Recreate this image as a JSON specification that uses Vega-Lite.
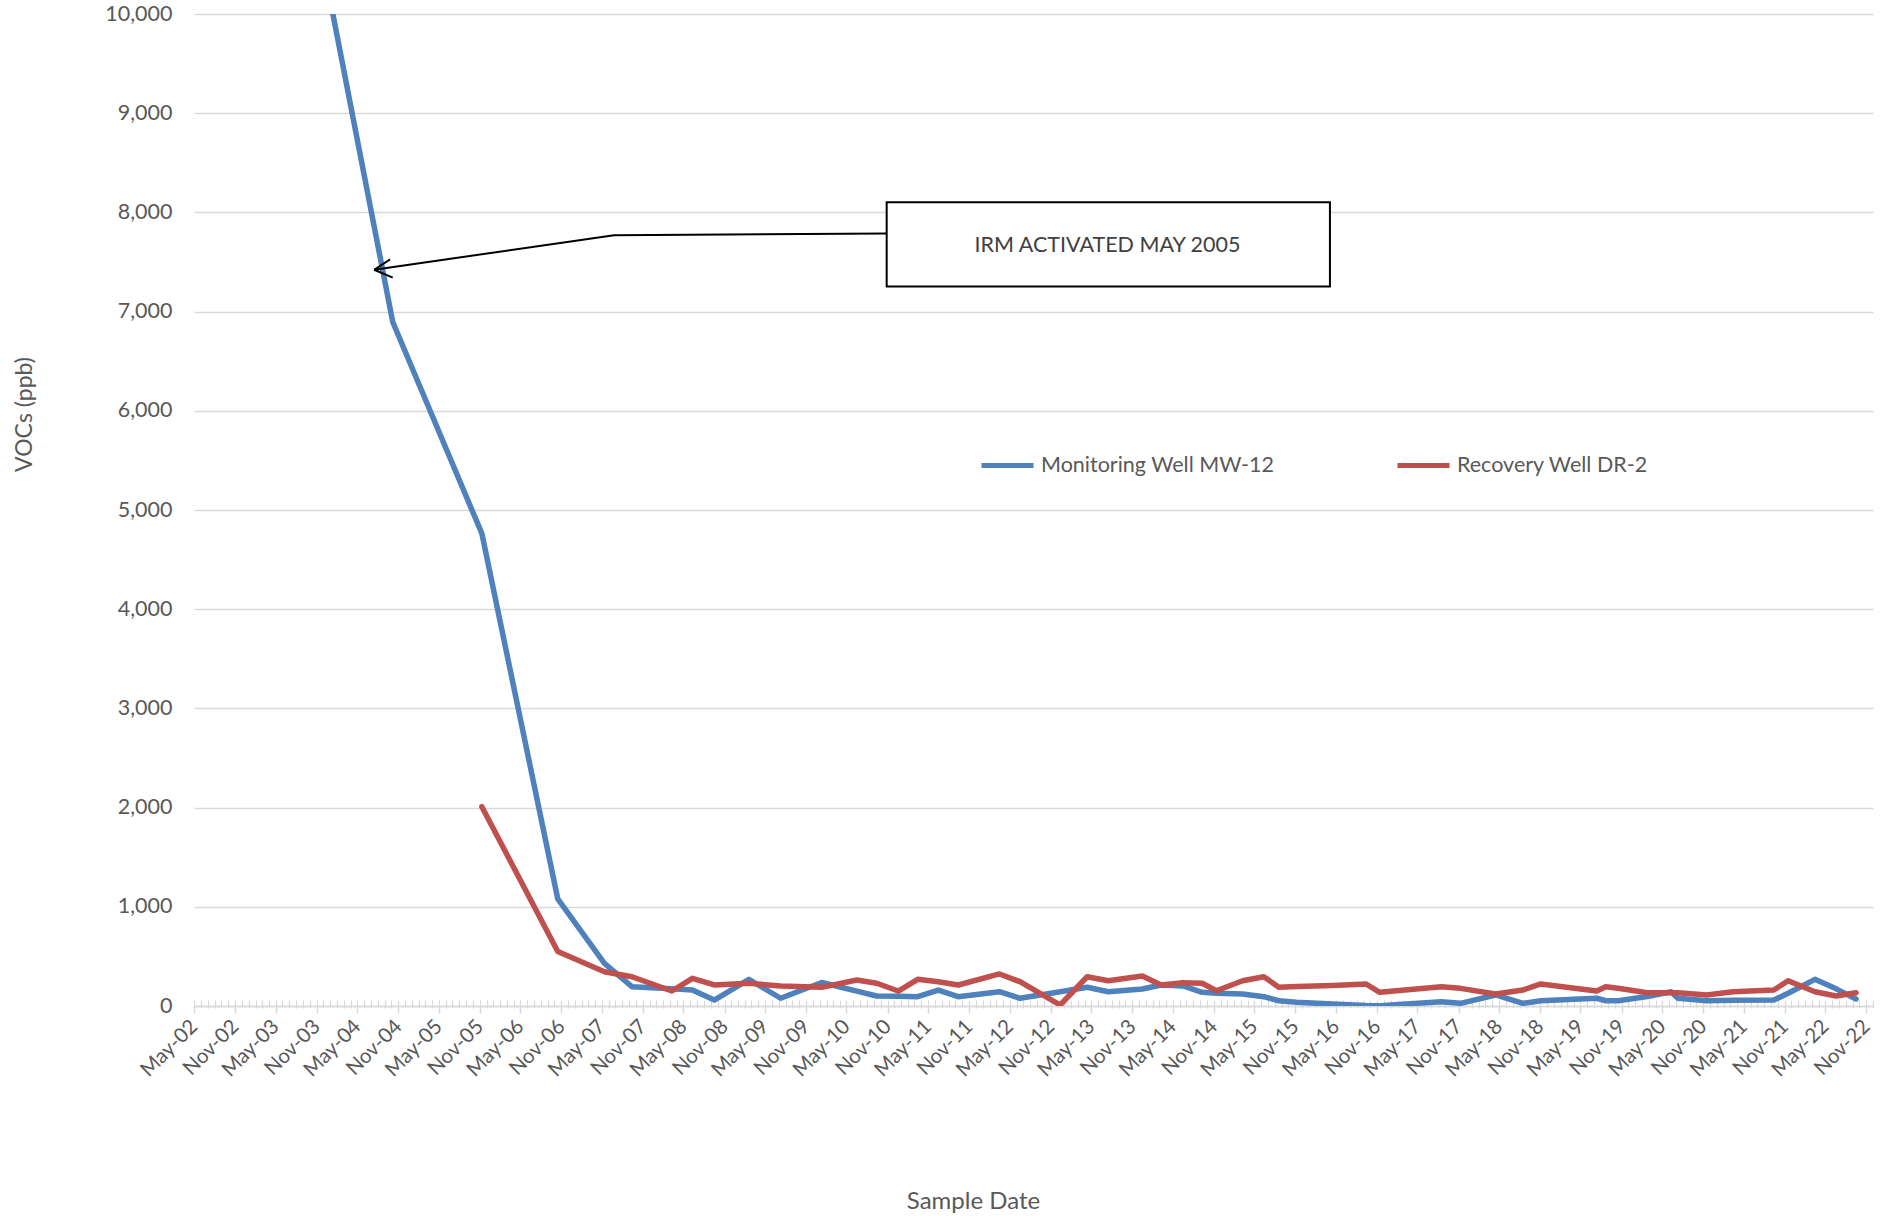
{
  "$schema": "https://vega.github.io/schema/vega-lite/v6.json",
  "autosize": "none",
  "width": 1679,
  "height": 992,
  "padding": {"left": 194, "top": 14, "right": 15, "bottom": 210},
  "background": "white",
  "config": {"view": {"stroke": null}, "font": "Lato"},
  "datasets": {
    "wells": [
      {"date": "2002-05-01", "well": "Monitoring Well MW-12", "voc": 17200},
      {"date": "2004-10-07", "well": "Monitoring Well MW-12", "voc": 6895},
      {"date": "2005-11-10", "well": "Monitoring Well MW-12", "voc": 4764},
      {"date": "2006-10-16", "well": "Monitoring Well MW-12", "voc": 1080},
      {"date": "2007-05-13", "well": "Monitoring Well MW-12", "voc": 430},
      {"date": "2007-09-13", "well": "Monitoring Well MW-12", "voc": 195},
      {"date": "2008-03-10", "well": "Monitoring Well MW-12", "voc": 173},
      {"date": "2008-06-10", "well": "Monitoring Well MW-12", "voc": 161},
      {"date": "2008-09-16", "well": "Monitoring Well MW-12", "voc": 60},
      {"date": "2009-02-18", "well": "Monitoring Well MW-12", "voc": 269},
      {"date": "2009-07-10", "well": "Monitoring Well MW-12", "voc": 78},
      {"date": "2010-01-10", "well": "Monitoring Well MW-12", "voc": 237},
      {"date": "2010-06-16", "well": "Monitoring Well MW-12", "voc": 150},
      {"date": "2010-09-13", "well": "Monitoring Well MW-12", "voc": 101},
      {"date": "2010-12-19", "well": "Monitoring Well MW-12", "voc": 98},
      {"date": "2011-03-16", "well": "Monitoring Well MW-12", "voc": 94},
      {"date": "2011-06-16", "well": "Monitoring Well MW-12", "voc": 161},
      {"date": "2011-09-13", "well": "Monitoring Well MW-12", "voc": 94},
      {"date": "2012-03-16", "well": "Monitoring Well MW-12", "voc": 144},
      {"date": "2012-06-16", "well": "Monitoring Well MW-12", "voc": 78},
      {"date": "2012-12-13", "well": "Monitoring Well MW-12", "voc": 144},
      {"date": "2013-04-13", "well": "Monitoring Well MW-12", "voc": 189},
      {"date": "2013-07-16", "well": "Monitoring Well MW-12", "voc": 144},
      {"date": "2013-12-16", "well": "Monitoring Well MW-12", "voc": 171},
      {"date": "2014-03-10", "well": "Monitoring Well MW-12", "voc": 212},
      {"date": "2014-06-16", "well": "Monitoring Well MW-12", "voc": 202},
      {"date": "2014-09-10", "well": "Monitoring Well MW-12", "voc": 138},
      {"date": "2014-11-13", "well": "Monitoring Well MW-12", "voc": 128},
      {"date": "2015-03-10", "well": "Monitoring Well MW-12", "voc": 121},
      {"date": "2015-06-13", "well": "Monitoring Well MW-12", "voc": 94},
      {"date": "2015-08-19", "well": "Monitoring Well MW-12", "voc": 53},
      {"date": "2015-11-07", "well": "Monitoring Well MW-12", "voc": 37},
      {"date": "2016-04-16", "well": "Monitoring Well MW-12", "voc": 20},
      {"date": "2016-09-13", "well": "Monitoring Well MW-12", "voc": 5},
      {"date": "2016-11-13", "well": "Monitoring Well MW-12", "voc": 3},
      {"date": "2017-08-16", "well": "Monitoring Well MW-12", "voc": 43},
      {"date": "2017-11-10", "well": "Monitoring Well MW-12", "voc": 27},
      {"date": "2018-04-16", "well": "Monitoring Well MW-12", "voc": 111},
      {"date": "2018-08-16", "well": "Monitoring Well MW-12", "voc": 27},
      {"date": "2018-11-04", "well": "Monitoring Well MW-12", "voc": 53},
      {"date": "2019-07-13", "well": "Monitoring Well MW-12", "voc": 78},
      {"date": "2019-08-22", "well": "Monitoring Well MW-12", "voc": 53},
      {"date": "2019-10-16", "well": "Monitoring Well MW-12", "voc": 53},
      {"date": "2020-02-25", "well": "Monitoring Well MW-12", "voc": 96},
      {"date": "2020-06-10", "well": "Monitoring Well MW-12", "voc": 144},
      {"date": "2020-07-10", "well": "Monitoring Well MW-12", "voc": 78},
      {"date": "2020-11-16", "well": "Monitoring Well MW-12", "voc": 53},
      {"date": "2021-03-13", "well": "Monitoring Well MW-12", "voc": 57},
      {"date": "2021-09-13", "well": "Monitoring Well MW-12", "voc": 60},
      {"date": "2021-11-16", "well": "Monitoring Well MW-12", "voc": 128},
      {"date": "2022-03-16", "well": "Monitoring Well MW-12", "voc": 269},
      {"date": "2022-06-19", "well": "Monitoring Well MW-12", "voc": 173},
      {"date": "2022-09-16", "well": "Monitoring Well MW-12", "voc": 71},
      {"date": "2005-11-10", "well": "Recovery Well DR-2", "voc": 2009},
      {"date": "2006-10-16", "well": "Recovery Well DR-2", "voc": 550},
      {"date": "2007-05-13", "well": "Recovery Well DR-2", "voc": 346},
      {"date": "2007-09-13", "well": "Recovery Well DR-2", "voc": 295},
      {"date": "2008-03-10", "well": "Recovery Well DR-2", "voc": 151},
      {"date": "2008-06-10", "well": "Recovery Well DR-2", "voc": 279},
      {"date": "2008-09-16", "well": "Recovery Well DR-2", "voc": 212},
      {"date": "2009-02-18", "well": "Recovery Well DR-2", "voc": 229},
      {"date": "2009-07-10", "well": "Recovery Well DR-2", "voc": 202},
      {"date": "2010-01-10", "well": "Recovery Well DR-2", "voc": 188},
      {"date": "2010-06-16", "well": "Recovery Well DR-2", "voc": 262},
      {"date": "2010-09-13", "well": "Recovery Well DR-2", "voc": 229},
      {"date": "2010-12-19", "well": "Recovery Well DR-2", "voc": 151},
      {"date": "2011-03-16", "well": "Recovery Well DR-2", "voc": 269},
      {"date": "2011-06-16", "well": "Recovery Well DR-2", "voc": 245},
      {"date": "2011-09-13", "well": "Recovery Well DR-2", "voc": 212},
      {"date": "2012-03-16", "well": "Recovery Well DR-2", "voc": 323},
      {"date": "2012-06-16", "well": "Recovery Well DR-2", "voc": 245},
      {"date": "2012-12-13", "well": "Recovery Well DR-2", "voc": 10},
      {"date": "2013-04-13", "well": "Recovery Well DR-2", "voc": 295},
      {"date": "2013-07-16", "well": "Recovery Well DR-2", "voc": 255},
      {"date": "2013-12-16", "well": "Recovery Well DR-2", "voc": 302},
      {"date": "2014-03-10", "well": "Recovery Well DR-2", "voc": 212},
      {"date": "2014-06-16", "well": "Recovery Well DR-2", "voc": 235},
      {"date": "2014-09-10", "well": "Recovery Well DR-2", "voc": 229},
      {"date": "2014-11-13", "well": "Recovery Well DR-2", "voc": 154},
      {"date": "2015-03-10", "well": "Recovery Well DR-2", "voc": 255},
      {"date": "2015-06-13", "well": "Recovery Well DR-2", "voc": 295},
      {"date": "2015-08-19", "well": "Recovery Well DR-2", "voc": 189},
      {"date": "2015-11-07", "well": "Recovery Well DR-2", "voc": 196},
      {"date": "2016-04-16", "well": "Recovery Well DR-2", "voc": 207},
      {"date": "2016-09-13", "well": "Recovery Well DR-2", "voc": 222},
      {"date": "2016-11-13", "well": "Recovery Well DR-2", "voc": 138},
      {"date": "2017-08-16", "well": "Recovery Well DR-2", "voc": 195},
      {"date": "2017-11-10", "well": "Recovery Well DR-2", "voc": 178},
      {"date": "2018-04-16", "well": "Recovery Well DR-2", "voc": 121},
      {"date": "2018-08-16", "well": "Recovery Well DR-2", "voc": 161},
      {"date": "2018-11-04", "well": "Recovery Well DR-2", "voc": 222},
      {"date": "2019-07-13", "well": "Recovery Well DR-2", "voc": 151},
      {"date": "2019-08-22", "well": "Recovery Well DR-2", "voc": 195},
      {"date": "2019-10-16", "well": "Recovery Well DR-2", "voc": 178},
      {"date": "2020-02-25", "well": "Recovery Well DR-2", "voc": 134},
      {"date": "2020-06-10", "well": "Recovery Well DR-2", "voc": 134},
      {"date": "2020-07-10", "well": "Recovery Well DR-2", "voc": 134},
      {"date": "2020-11-16", "well": "Recovery Well DR-2", "voc": 111},
      {"date": "2021-03-13", "well": "Recovery Well DR-2", "voc": 144},
      {"date": "2021-09-13", "well": "Recovery Well DR-2", "voc": 161},
      {"date": "2021-11-16", "well": "Recovery Well DR-2", "voc": 255},
      {"date": "2022-03-16", "well": "Recovery Well DR-2", "voc": 144},
      {"date": "2022-06-19", "well": "Recovery Well DR-2", "voc": 101},
      {"date": "2022-09-16", "well": "Recovery Well DR-2", "voc": 134}
    ],
    "annbox": [
      {"date": "2010-10-28", "date2": "2016-04-04", "voc": 8102, "voc2": 7252}
    ],
    "anntext": [
      {"date": "2013-07-13", "voc": 7665, "label": "IRM ACTIVATED MAY 2005"}
    ],
    "arrow": [
      {"seg": "shaft", "ord": 1, "date": "2010-10-28", "voc": 7788},
      {"seg": "shaft", "ord": 2, "date": "2007-06-25", "voc": 7770},
      {"seg": "shaft", "ord": 3, "date": "2004-07-16", "voc": 7422},
      {"seg": "head1", "ord": 1, "date": "2004-09-25", "voc": 7527},
      {"seg": "head1", "ord": 2, "date": "2004-07-16", "voc": 7422},
      {"seg": "head2", "ord": 1, "date": "2004-10-07", "voc": 7342},
      {"seg": "head2", "ord": 2, "date": "2004-07-16", "voc": 7422}
    ]
  },
  "resolve": {"axis": {"x": "independent"}},
  "layer": [
    {
      "data": {"name": "annbox"},
      "mark": {"type": "rect", "fill": "white", "stroke": "black", "strokeWidth": 2},
      "encoding": {
        "x": {
          "field": "date", "type": "temporal",
          "scale": {"domain": [{"year": 2002, "month": 5, "date": 1}, {"year": 2022, "month": 12, "date": 1}]},
          "axis": {
            "orient": "bottom", "tickCount": {"interval": "month", "step": 1},
            "labels": false, "domain": false, "grid": false, "tickSize": 8, "offset": -6,
            "tickColor": "#d9d9d9", "tickWidth": 1.2, "title": null
          }
        },
        "x2": {"field": "date2"},
        "y": {
          "field": "voc", "type": "quantitative", "title": "VOCs (ppb)",
          "scale": {"domain": [0, 10000]},
          "axis": {
            "values": [0, 1000, 2000, 3000, 4000, 5000, 6000, 7000, 8000, 9000, 10000],
            "labelExpr": "format(datum.value, ',.0f')",
            "grid": true, "gridColor": "#d9d9d9", "gridWidth": 1.5,
            "domain": false, "ticks": false, "labelPadding": 22, "labelFontSize": 21.5, "labelFont": "Lato",
            "labelColor": "#595959",
            "title": "VOCs (ppb)", "titleFontSize": 23, "titleFont": "Lato", "titleFontWeight": "normal",
            "titleColor": "#595959", "titleX": -158, "titleY": 400, "titleAlign": "center", "titleBaseline": "bottom"
          }
        },
        "y2": {"field": "voc2"}
      }
    },
    {
      "data": {"name": "wells"},
      "mark": {"type": "line", "strokeWidth": 5.5, "clip": true, "strokeCap": "round", "strokeJoin": "round"},
      "encoding": {
        "x": {
          "field": "date", "type": "temporal",
          "axis": {
            "orient": "bottom",
            "values": [
              {"year": 2002, "month": 5, "date": 1}, {"year": 2002, "month": 11, "date": 1},
              {"year": 2003, "month": 5, "date": 1}, {"year": 2003, "month": 11, "date": 1},
              {"year": 2004, "month": 5, "date": 1}, {"year": 2004, "month": 11, "date": 1},
              {"year": 2005, "month": 5, "date": 1}, {"year": 2005, "month": 11, "date": 1},
              {"year": 2006, "month": 5, "date": 1}, {"year": 2006, "month": 11, "date": 1},
              {"year": 2007, "month": 5, "date": 1}, {"year": 2007, "month": 11, "date": 1},
              {"year": 2008, "month": 5, "date": 1}, {"year": 2008, "month": 11, "date": 1},
              {"year": 2009, "month": 5, "date": 1}, {"year": 2009, "month": 11, "date": 1},
              {"year": 2010, "month": 5, "date": 1}, {"year": 2010, "month": 11, "date": 1},
              {"year": 2011, "month": 5, "date": 1}, {"year": 2011, "month": 11, "date": 1},
              {"year": 2012, "month": 5, "date": 1}, {"year": 2012, "month": 11, "date": 1},
              {"year": 2013, "month": 5, "date": 1}, {"year": 2013, "month": 11, "date": 1},
              {"year": 2014, "month": 5, "date": 1}, {"year": 2014, "month": 11, "date": 1},
              {"year": 2015, "month": 5, "date": 1}, {"year": 2015, "month": 11, "date": 1},
              {"year": 2016, "month": 5, "date": 1}, {"year": 2016, "month": 11, "date": 1},
              {"year": 2017, "month": 5, "date": 1}, {"year": 2017, "month": 11, "date": 1},
              {"year": 2018, "month": 5, "date": 1}, {"year": 2018, "month": 11, "date": 1},
              {"year": 2019, "month": 5, "date": 1}, {"year": 2019, "month": 11, "date": 1},
              {"year": 2020, "month": 5, "date": 1}, {"year": 2020, "month": 11, "date": 1},
              {"year": 2021, "month": 5, "date": 1}, {"year": 2021, "month": 11, "date": 1},
              {"year": 2022, "month": 5, "date": 1}, {"year": 2022, "month": 11, "date": 1}
            ],
            "format": "%b-%y",
            "labelAngle": -45, "labelAlign": "right", "labelBaseline": "middle",
            "labelFontSize": 20.5, "labelFont": "Lato", "labelColor": "#595959", "labelPadding": 10,
            "labelOverlap": false, "labelFlush": false, "labelBound": false,
            "tickSize": 7, "tickColor": "#d9d9d9", "tickWidth": 1.5,
            "domainColor": "#d9d9d9", "domainWidth": 1.5, "grid": false,
            "title": "Sample Date", "titleFontSize": 24, "titleFont": "Lato", "titleFontWeight": "normal",
            "titleColor": "#595959", "titleX": 779, "titleY": 195, "titleAlign": "center", "titleBaseline": "middle"
          }
        },
        "y": {"field": "voc", "type": "quantitative", "title": "VOCs (ppb)"},
        "color": {
          "field": "well", "type": "nominal",
          "scale": {"domain": ["Monitoring Well MW-12", "Recovery Well DR-2"], "range": ["#4F81BD", "#C0504D"]},
          "legend": {
            "orient": "none", "legendX": 785, "legendY": 423, "direction": "horizontal", "title": null,
            "symbolType": "stroke", "symbolStrokeWidth": 5, "symbolSize": 2704,
            "labelFontSize": 21.5, "labelFont": "Lato", "labelColor": "#595959", "labelOffset": 5,
            "labelLimit": 0, "columnPadding": 112
          }
        }
      }
    },
    {
      "data": {"name": "anntext"},
      "mark": {"type": "text", "fontSize": 21.5, "font": "Lato", "color": "#404040", "align": "center", "baseline": "middle"},
      "encoding": {
        "x": {"field": "date", "type": "temporal", "axis": null},
        "y": {"field": "voc", "type": "quantitative", "title": "VOCs (ppb)"},
        "text": {"field": "label"}
      }
    },
    {
      "data": {"name": "arrow"},
      "mark": {"type": "line", "color": "black", "strokeWidth": 2},
      "encoding": {
        "x": {"field": "date", "type": "temporal", "axis": null},
        "y": {"field": "voc", "type": "quantitative", "title": "VOCs (ppb)"},
        "detail": {"field": "seg"},
        "order": {"field": "ord"}
      }
    }
  ]
}
